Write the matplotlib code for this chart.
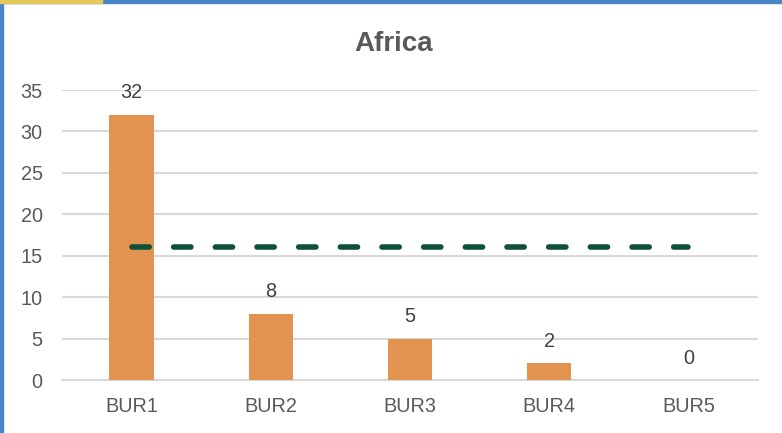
import matplotlib.pyplot as plt
from matplotlib.patches import Rectangle

plt.rcParams['font.family'] = ['Liberation Sans', 'DejaVu Sans']

categories = ['BUR1', 'BUR2', 'BUR3', 'BUR4', 'BUR5']
values = [32, 8, 5, 2, 0]
average = [16, 16, 16, 16, 16]
yticks = [0, 5, 10, 15, 20, 25, 30, 35]

fig = plt.figure(figsize=(7.82, 4.33), dpi=100)
ax = fig.add_axes([0.0793, 0.1224, 0.89, 0.6697])

x = list(range(len(categories)))
ax.bar(x, values, width=0.32, color='#E39350', zorder=3)
ax.plot(x, average, color='#0E5038', lw=4, dashes=(3.1, 4.4),
        dash_capstyle='round', zorder=4)

for xi, v in zip(x, values):
    ax.annotate(str(v), (xi, v), xytext=(0, 9), textcoords='offset points',
                ha='center', va='bottom', fontsize=14.3, color='#404040')

ax.set_xlim(-0.5, 4.5)
ax.set_ylim(0, 35)
ax.set_yticks(yticks)
ax.set_xticks(x)
ax.set_xticklabels(categories)
ax.yaxis.grid(True, color='#D9D9D9', lw=1.5, zorder=0)
for s in ['top', 'right', 'left']:
    ax.spines[s].set_visible(False)
ax.spines['bottom'].set_color('#D9D9D9')
ax.spines['bottom'].set_linewidth(1.5)
ax.tick_params(length=0, labelsize=14.3, labelcolor='#595959')
ax.tick_params(axis='x', pad=12)
ax.tick_params(axis='y', pad=14)

fig.text(0.503, 0.898, 'Africa', ha='center', va='center', fontsize=20,
         fontweight='bold', color='#595959')

# screenshot frame edges
fig.patches.append(Rectangle((0, 0.993), 1, 0.007, transform=fig.transFigure,
                             color='#4A86C5', zorder=10))
fig.patches.append(Rectangle((0, 0.993), 0.13, 0.007, transform=fig.transFigure,
                             color='#E3C85A', zorder=11))
fig.patches.append(Rectangle((0, 0), 0.004, 1, transform=fig.transFigure,
                             color='#4A86C5', zorder=10))

fig.savefig('out.png', dpi=100)
